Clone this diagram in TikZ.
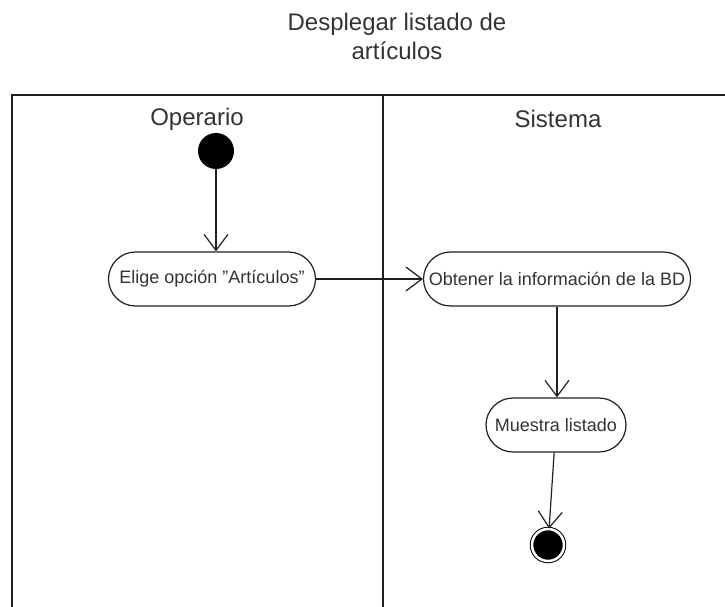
\documentclass[tikz,border=0pt]{standalone}
\usepackage{fontspec}
\setmainfont{Liberation Sans}
\usepackage{tikz}
\usetikzlibrary{arrows.meta,positioning}
\definecolor{lnink}{HTML}{202020}
\definecolor{txink}{HTML}{333333}

\begin{document}
\begin{tikzpicture}[
  x=1pt, y=-1pt,
  font=\fontsize{18}{21}\selectfont,
  act/.style={draw=lnink, line width=1.2pt, rounded corners=27pt, fill=white, align=center, text=txink, minimum height=54pt, inner sep=0pt},
  startnode/.style={circle, fill=black, minimum size=36pt, inner sep=0pt},
  endnode/.style={circle, draw=black, double=white, line width=1pt, double distance=2.5pt, fill=black, minimum size=32pt, inner sep=0pt},
  lane/.style={draw=lnink, line width=2pt},
  arr/.style={-{Straight Barb[length=16pt, width=24pt, line width=1.2pt]}, line width=1.2pt, lnink}
]
\useasboundingbox (0,0) rectangle (725,607);
% swimlanes
\draw[lane] (12,610) -- (12,95) -- (730,95);
\draw[lane] (383,95) -- (383,610);
\node[font=\fontsize{24}{29}\selectfont, align=center, text=txink] (title) at (397,36) {Desplegar listado de\\art\'iculos};
\node[font=\fontsize{24}{29}\selectfont, text=txink] (op) at (197,119) {Operario};
\node[font=\fontsize{24}{29}\selectfont, text=txink] (sis) at (558,119) {Sistema};
% actions
\node[startnode] (ini) at (216,151) {};
\node[act, minimum width=207pt] (elige) at (212,279) {Elige opci\'on \symbol{34}Art\'iculos\symbol{34}};
\node[act, minimum width=267pt] (obt) at (557,279) {Obtener la informaci\'on de la BD};
\node[act, minimum width=140pt] (muestra) at (556,425) {Muestra listado};
\node[endnode] (fin) at (548,545) {};
\draw[arr] (ini) -- (ini |- elige.north);
\draw[arr] (elige) -- (obt);
\draw[arr] (obt) -- (obt |- muestra.north);
\draw[arr] (muestra) -- (fin);
\end{tikzpicture}
\end{document}
